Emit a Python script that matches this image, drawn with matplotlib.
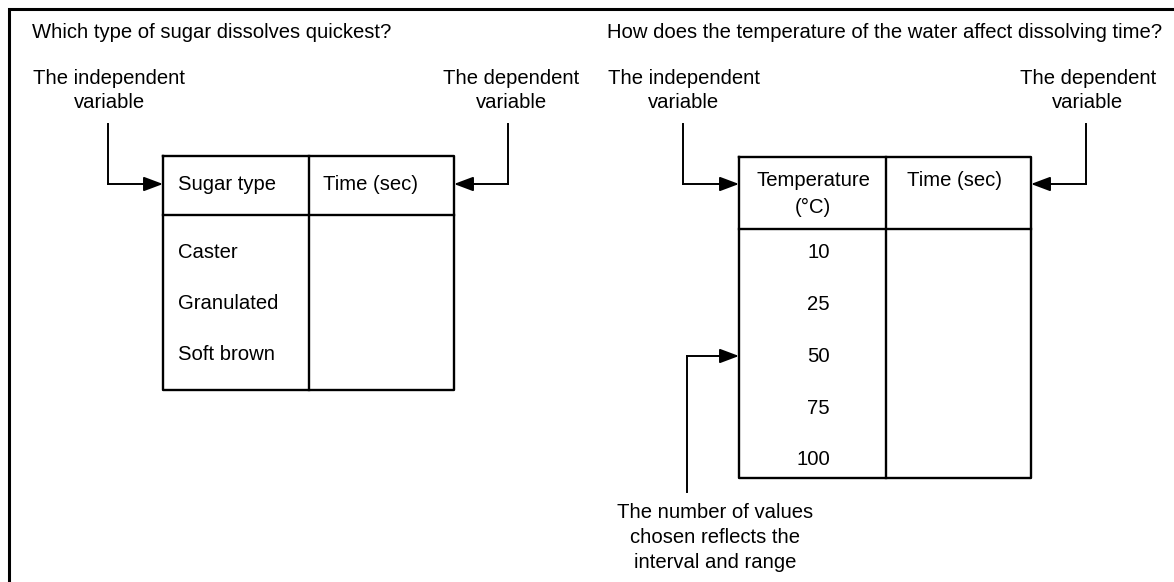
import matplotlib.pyplot as plt

plt.rcParams['font.family'] = ['Liberation Sans', 'DejaVu Sans']

# Texte des deux exemples
questions = ["Which type of sugar dissolves quickest?",
             "How does the temperature of the water affect dissolving time?"]
label_indep = ["The independent", "variable"]
label_dep = ["The dependent", "variable"]
note_lines = ["The number of values", "chosen reflects the", "interval and range"]

left_headers = ["Sugar type", "Time (sec)"]
sugar_types = ["Caster", "Granulated", "Soft brown"]

right_headers = [["Temperature", "(°C)"], ["Time (sec)"]]
temperatures = [10, 25, 50, 75, 100]

FS = 14.6
LW_TAB = 1.7
LW_ARR = 1.4

fig = plt.figure(figsize=(11.74, 5.82), dpi=100)
ax = fig.add_axes([0, 0, 1, 1])
ax.set_xlim(0, 1174)
ax.set_ylim(582, 0)
ax.axis('off')

# cadre exterieur (haut + gauche)
ax.plot([9, 9, 1174], [582, 9, 9], color='black', lw=2.2, solid_joinstyle='miter')


def draw_table(x0, xm, x1, top, head, bottom):
    ax.plot([x0, x1, x1, x0, x0], [top, top, bottom, bottom, top], color='black', lw=LW_TAB)
    ax.plot([x0, x1], [head, head], color='black', lw=LW_TAB)
    ax.plot([xm, xm], [top, bottom], color='black', lw=LW_TAB)


def elbow_arrow(xs, ys, tip_x, tip_y):
    # segment sans fleche puis dernier segment avec fleche
    ax.plot(xs, ys, color='black', lw=LW_ARR)
    ax.annotate('', xy=(tip_x, tip_y), xytext=(xs[-1], ys[-1]),
                arrowprops=dict(arrowstyle='-|>,head_length=0.8,head_width=0.3',
                                color='black', lw=LW_ARR, shrinkA=0, shrinkB=0),
                fontsize=FS)


def text_lines(x, y0, lines, step=25, ha='center'):
    for i, t in enumerate(lines):
        ax.text(x, y0 + i * step, t, fontsize=FS, ha=ha, va='center')


# ---- partie gauche ----
ax.text(32, 33, questions[0], fontsize=FS, ha='left', va='center')
text_lines(109, 78, label_indep)
text_lines(511, 78, label_dep)

draw_table(163, 309, 454, 156, 215, 390)
ax.text(178, 184, left_headers[0], fontsize=FS, ha='left', va='center')
ax.text(323, 184, left_headers[1], fontsize=FS, ha='left', va='center')
for i, s in enumerate(sugar_types):
    ax.text(178, 252 + i * 51.5, s, fontsize=FS, ha='left', va='center')

elbow_arrow([108, 108], [124, 184], 163, 184)
elbow_arrow([508, 508], [124, 184], 454, 184)

# ---- partie droite ----
ax.text(607, 33, questions[1], fontsize=FS, ha='left', va='center')
text_lines(684, 78, label_indep)
text_lines(1088, 78, label_dep)

draw_table(739, 886, 1031, 157, 229, 478)
text_lines(813, 180, right_headers[0], step=27)
ax.text(907, 180, right_headers[1][0], fontsize=FS, ha='left', va='center')
for i, t in enumerate(temperatures):
    ax.text(830, 253 + i * 51.7, str(t), fontsize=FS, ha='right', va='center')

elbow_arrow([683, 683], [124, 184], 739, 184)
elbow_arrow([1086, 1086], [124, 184], 1031, 184)

# fleche du bas vers la ligne 50
elbow_arrow([687, 687], [492, 356], 739, 356)
text_lines(715, 513, note_lines, step=24.5)

fig.savefig('out.png', dpi=100)
